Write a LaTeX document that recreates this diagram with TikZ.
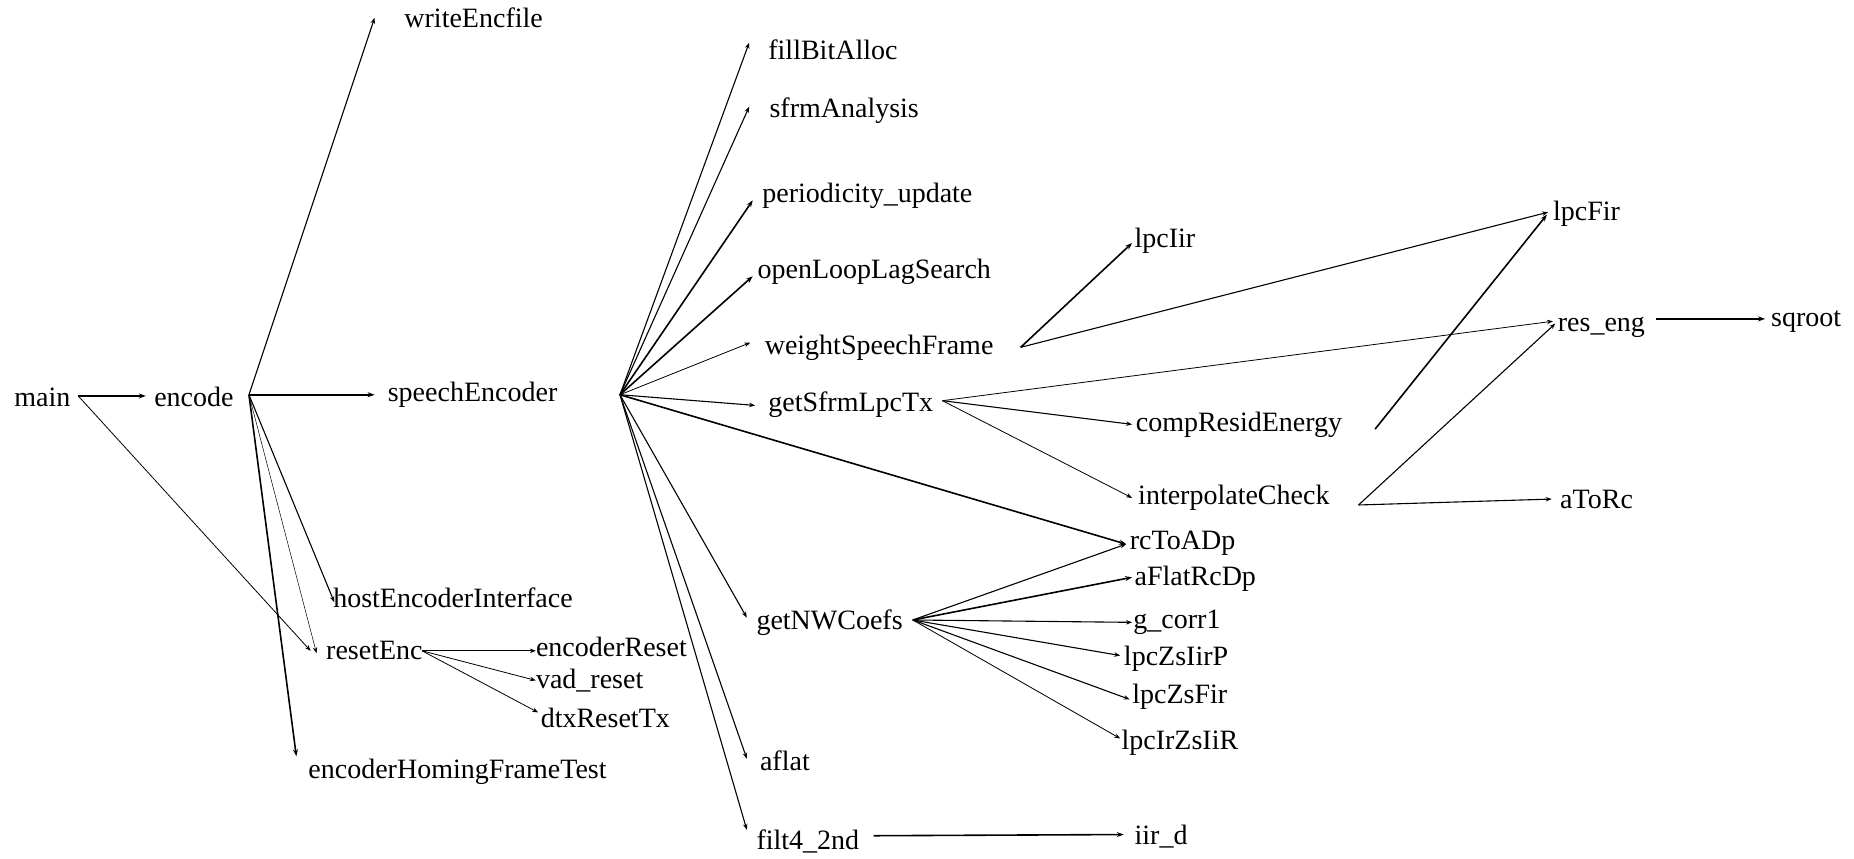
\documentclass[tikz,border=0pt]{standalone}
\usepackage{fontspec}
\setmainfont{Liberation Serif}
\usetikzlibrary{arrows.meta}
\begin{document}
\begin{tikzpicture}[x=1.1854pt,y=-1.1854pt,
  lbl/.style={anchor=west,inner sep=0pt,font=\fontsize{28}{32}\selectfont},
  thinline/.style={line width=0.8pt,-{Stealth[length=6pt,width=4.5pt]}},
  medline/.style={line width=1.1pt,-{Stealth[length=6pt,width=4.5pt]}},
  thickline/.style={line width=1.6pt,-{Stealth[length=7pt,width=5pt]}}]
\useasboundingbox (0,0) rectangle (1564,723.8);
% nodes
\node[lbl] (main) at (12,335) {main};
\node[lbl] (encode) at (130,335) {encode};
\node[lbl] (speechEncoder) at (327,333) {speechEncoder};
\node[lbl] (writeEncfile) at (341,15) {writeEncfile};
\node[lbl] (hostEnc) at (281,504) {hostEncoderInterface};
\node[lbl] (resetEnc) at (275,549) {resetEnc};
\node[lbl] (encoderReset) at (452,546) {encoderReset};
\node[lbl] (vadReset) at (452,574) {vad\_reset};
\node[lbl] (dtxReset) at (456,606) {dtxResetTx};
\node[lbl] (homing) at (260,651) {encoderHomingFrameTest};
\node[lbl] (fillBit) at (648,42) {fillBitAlloc};
\node[lbl] (sfrm) at (649,93) {sfrmAnalysis};
\node[lbl] (period) at (643,165) {periodicity\_update};
\node[lbl] (openLoop) at (639,229) {openLoopLagSearch};
\node[lbl] (weight) at (645,293) {weightSpeechFrame};
\node[lbl] (getSfrm) at (648,341) {getSfrmLpcTx};
\node[lbl] (getNW) at (638,525) {getNWCoefs};
\node[lbl] (aflat) at (641,642) {aflat};
\node[lbl] (filt) at (638,710) {filt4\_2nd};
\node[lbl] (lpcIir) at (957,203) {lpcIir};
\node[lbl] (lpcFir) at (1310,180) {lpcFir};
\node[lbl] (resEng) at (1314,276) {res\_eng};
\node[lbl] (sqroot) at (1494,271) {sqroot};
\node[lbl] (compRes) at (958,358) {compResidEnergy};
\node[lbl] (interp) at (960,420) {interpolateCheck};
\node[lbl] (aToRc) at (1316,421) {aToRc};
\node[lbl] (rcToADp) at (953,458) {rcToADp};
\node[lbl] (aFlatRcDp) at (957,488) {aFlatRcDp};
\node[lbl] (gcorr) at (956,525) {g\_corr1};
\node[lbl] (lpcZsIirP) at (948,556) {lpcZsIirP};
\node[lbl] (lpcZsFir) at (955,588) {lpcZsFir};
\node[lbl] (lpcIrZsIiR) at (946,627) {lpcIrZsIiR};
\node[lbl] (iird) at (957,706) {iir\_d};
% connector points
\coordinate (mainO) at (66,334);
\coordinate (encI) at (123,334);
\coordinate (encO) at (210,333);
\coordinate (speI) at (316,333);
\coordinate (wefI) at (316,15);
\coordinate (hostI) at (282,508);
\coordinate (rstI1) at (262,549);
\coordinate (rstI2) at (267,551);
\coordinate (homI) at (250,638);
\coordinate (rstO) at (356,549);
\coordinate (erI) at (452,549);
\coordinate (vrI) at (452,574);
\coordinate (dtI) at (454,601);
\coordinate (speO) at (523,333);
\coordinate (fbI) at (632,36);
\coordinate (saI) at (632,90);
\coordinate (puI) at (635,169);
\coordinate (olI) at (635,233);
\coordinate (wsI) at (633,289);
\coordinate (gsI) at (637,342);
\coordinate (rcI) at (950,459);
\coordinate (nwI) at (630,521);
\coordinate (afI) at (630,640);
\coordinate (f4I) at (630,700);
\coordinate (wsO) at (861,293);
\coordinate (liI) at (955,205);
\coordinate (lfI) at (1306,179);
\coordinate (gsO) at (795,338);
\coordinate (reI1) at (1310,271);
\coordinate (crI) at (955,358);
\coordinate (icI) at (955,420);
\coordinate (crO) at (1160,362);
\coordinate (lfI2) at (1305,181);
\coordinate (icO) at (1146,426);
\coordinate (reI2) at (1312,273);
\coordinate (arI) at (1309,421);
\coordinate (reO) at (1397,269);
\coordinate (sqI) at (1489,269);
\coordinate (nwO) at (770,523);
\coordinate (afrI) at (955,487);
\coordinate (gcI) at (955,525);
\coordinate (zpI) at (945,553);
\coordinate (zfI) at (953,590);
\coordinate (izI) at (945,623);
\coordinate (f4O) at (737,705);
\coordinate (idI) at (948,704);
% connectors
\draw[thickline] (mainO) -- (encI);
\draw[thinline] (mainO) -- (rstI1);
\draw[thickline] (encO) -- (speI);
\draw[medline] (encO) -- (wefI);
\draw[medline] (encO) -- (hostI);
\draw[thinline,line width=0.5pt] (encO) -- (rstI2);
\draw[thickline] (encO) -- (homI);
\draw[thinline] (rstO) -- (erI);
\draw[thinline] (rstO) -- (vrI);
\draw[thinline] (rstO) -- (dtI);
\draw[medline] (speO) -- (fbI);
\draw[medline] (speO) -- (saI);
\draw[thickline] (speO) -- (puI);
\draw[thickline] (speO) -- (olI);
\draw[thinline] (speO) -- (wsI);
\draw[medline] (speO) -- (gsI);
\draw[thickline] (speO) -- (rcI);
\draw[medline] (speO) -- (nwI);
\draw[medline] (speO) -- (afI);
\draw[medline] (speO) -- (f4I);
\draw[thickline] (wsO) -- (liI);
\draw[medline] (wsO) -- (lfI);
\draw[thinline] (gsO) -- (reI1);
\draw[medline] (gsO) -- (crI);
\draw[thinline] (gsO) -- (icI);
\draw[thickline] (crO) -- (lfI2);
\draw[medline] (icO) -- (reI2);
\draw[medline] (icO) -- (arI);
\draw[thickline] (reO) -- (sqI);
\draw[medline] (nwO) -- (rcI);
\draw[thickline] (nwO) -- (afrI);
\draw[medline] (nwO) -- (gcI);
\draw[medline] (nwO) -- (zpI);
\draw[medline] (nwO) -- (zfI);
\draw[thinline] (nwO) -- (izI);
\draw[thickline] (f4O) -- (idI);
\end{tikzpicture}
\end{document}
